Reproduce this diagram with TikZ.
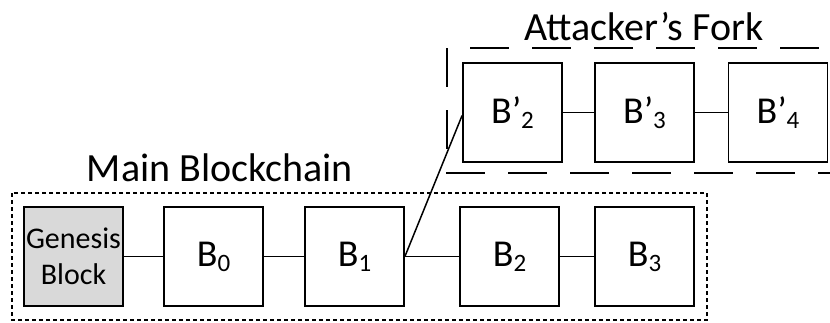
\documentclass[tikz,border=0pt]{standalone}
\usepackage{fontspec}
\setmainfont{Carlito}
\usetikzlibrary{positioning,shapes}

\newcommand{\blksub}[1]{\raisebox{-5pt}{\fontsize{25}{25}\selectfont #1}}

\tikzset{
	blk/.style={draw,line width=1.8pt,minimum size=99pt,inner sep=0pt,font=\fontsize{38}{40}\selectfont},
	genblk/.style={blk,fill=black!15,align=center,font=\fontsize{30}{36}\selectfont},
	link/.style={line width=1.5pt},
	forkline/.style={line width=1.6pt,dash pattern=on 39pt off 23pt},
	lbl/.style={font=\fontsize{40}{44}\selectfont,anchor=base}
}

\begin{document}
\begin{tikzpicture}[x=1pt,y=-1pt]

			\useasboundingbox (0,0) rectangle (830,322);
			\clip (0,0) rectangle (830,322);

			% main chain
			\draw[line width=1.5pt,dash pattern=on 4pt off 3pt] (12,193) rectangle (707,320);
			\node[lbl] (mainlbl) at (220,181) {Main Blockchain};

			\node[genblk] (gen) at (73.5,256.5) {Genesis\\Block};
			\node[blk] (b0) at (213.5,256.5) {B\blksub{0}};
			\node[blk] (b1) at (354.5,256.5) {B\blksub{1}};
			\node[blk] (b2) at (509.5,256.5) {B\blksub{2}};
			\node[blk] (b3) at (644.5,256.5) {B\blksub{3}};

			\draw[link] (gen) -- (b0);
			\draw[link] (b0) -- (b1);
			\draw[link] (b1) -- (b2);
			\draw[link] (b2) -- (b3);

			% fork
			\draw[forkline] (470,48) -- (860,48);
			\draw[forkline] (447,48) -- (447,173) -- (860,173);
			\node[lbl] (forklbl) at (644,40) {Attacker’s Fork};

			\node[blk] (f2) at (512.5,112.5) {B’\blksub{2}};
			\node[blk] (f3) at (644.5,112.5) {B’\blksub{3}};
			\node[blk] (f4) at (778,112.5) {B’\blksub{4}};

			\draw[link] (f2) -- (f3);
			\draw[link] (f3) -- (f4);
			\draw[link] (b1.east) -- ([yshift=-3pt]f2.west);

		\end{tikzpicture}
\end{document}
